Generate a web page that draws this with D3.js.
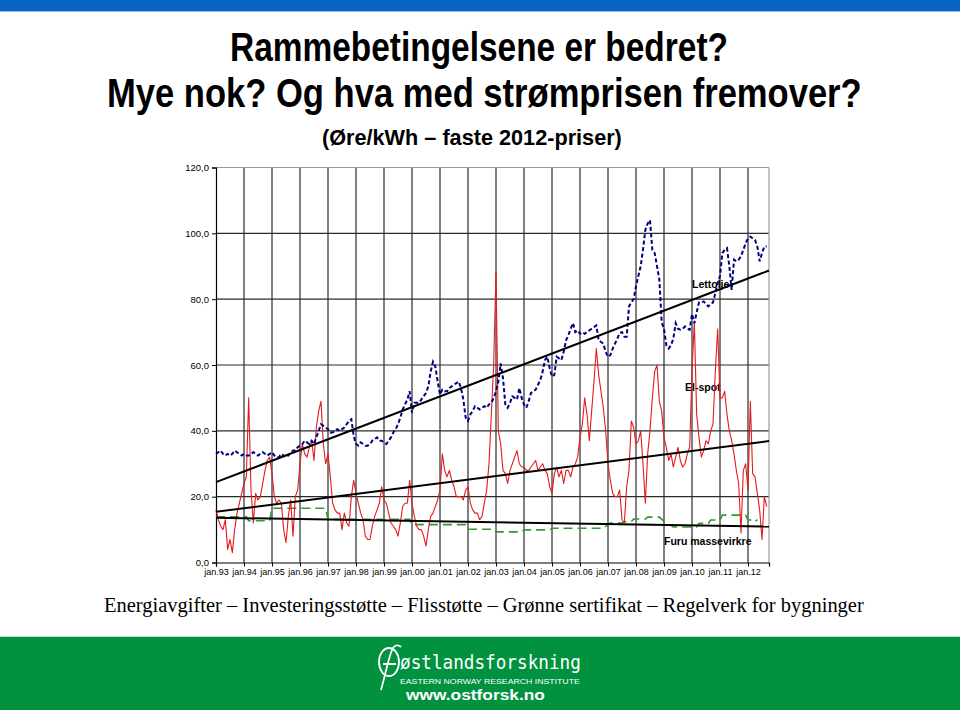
<!DOCTYPE html>
<html><head><meta charset="utf-8">
<script src="https://cdn.jsdelivr.net/npm/d3@7/dist/d3.min.js"></script>
<style>body{margin:0;background:#fff}svg{display:block}</style>
</head><body>
<svg id="c" width="960" height="710"></svg>
<script>
// ---------- data ----------
const yearLabels = ["jan.93","jan.94","jan.95","jan.96","jan.97","jan.98","jan.99","jan.00","jan.01","jan.02","jan.03","jan.04","jan.05","jan.06","jan.07","jan.08","jan.09","jan.10","jan.11","jan.12"];
const yTicks = [0,20,40,60,80,100,120];

// Lettolje (monthly, Jan 1993 ->)
const lettolje = [
33,33.5,34,33,32.5,33,32.5,33,34,33.5,33,32.5,
33,32.5,32.5,33,33.5,33,32.5,33,33.5,33,32.5,33,
33.5,32.5,32,32,33,32.5,32,32.5,33.5,34,34,35,
35.5,36,37,36.5,36,37,36,38,40,42,41.5,41,
40.5,39.5,39.5,40,40.5,40,40.5,41,42,43,43.5,38.5,
36,35.5,36.5,36,35.5,35.5,36,37,37.5,38,37,37,
36.5,36,37,38,39.5,40.5,42,44,46.5,48,49.5,52,
45.5,48.5,48.5,48.5,49.5,50.5,51.5,53.5,58,61,59.5,55,
51,52.5,52,52,53,53.5,54,54.5,55,53,49.5,44,
43,45,46,47.5,47,46.5,47,47.5,47,48,48.5,50,
52,55,60.5,56,48,47,48.5,50.5,50,49.5,53,50,
48,47,49,51.5,52,52.5,54,55.5,58,61.5,62.5,59,
56.5,57,62.5,62,61.5,64,67.5,69,71,72.7,70,70.5,
69.5,70,69.5,70,70.5,71,71.5,72,67.5,67,66.5,64,
62.5,63,65,66.5,68,69.7,70,68.6,68.6,77.8,79,80,
84,87,90,95,101,103,104,95,94,90,86,73,
71,66,65,66,68,72.7,71,70.7,71,71.7,71,70.7,
75.5,72.7,76,79,79,79.3,78.5,77.8,78.5,79,81.8,85,
87,94,95,95.5,90,82.8,92,91.5,92,93,95,97,
98.5,99,98.5,98,96,91.5,94,96,96
];

// El-spot (monthly, Jan 1993 ->)
const elspot = [
16,13,11,10,13,4,7,3,10,15,18,21,
24,26,50,22,12,21,19,20,24,28,31,32,
27,20,18,19,18,10,6,14,19,8,20,22,
30,36,33,32,35,37,31,41,46,49,36,30,
33,26,18,16,15,15,10,15,12,11,20,25,
21,18,15,13,8,7,7,11,14,16,18,23,
19,18,15,12,11,10,8,12,17,18,18,25,
18,14,11,10,10,8,5,10,14,15,17,19,
22,33,28,26,28,25,23,20,20,20,19,22,
23,18,16,15,15,13,14,18,22,30,45,60,
88,40,36,28,27,24,28,30,32,34,30,29,
29,28,28,29,30,31,28,29,30,28,27,23,
21,27,29,26,28,24,28,28,26,29,30,32,
38,42,50,45,37,46,55,65,57,52,47,40,
30,25,21,20,20,22,13,12,23,28,43,41,
36,37,40,30,18,33,40,50,58,60,49,46,
38,35,31,33,29,32,35,31,29,30,33,35,
58,73,45,38,32,34,37,36,40,42,58,71,
50,50,52,45,40,37,33,28,24,9,28,30,
22,49,27,26,21,16,7,20,17
];

// Furu massevirkre (monthly, Jan 1993 ->)
const furu = [
13.9,13.9,13.9,13.9,13.9,13.9,13.9,13.9,13.9,13.9,13.9,13.9,13.9,13.9,
12.7,12.7,12.7,12.7,12.7,12.7,12.7,12.7,12.7,12.7,
16.5,16.5,16.5,16.5,16.5,16.5,16.5,16.5,16.5,16.5,16.5,16.5,
16.5,16.5,16.5,16.5,16.5,16.5,16.5,16.5,16.5,16.5,16.5,16.5,
13.1,13.1,13.1,13.1,13.1,13.1,13.1,13.1,13.1,13.1,13.1,13.1,
13.1,13.1,13.1,13.1,13.1,13.1,13.1,13.1,13.1,13.1,13.1,13.1,
13.1,13.1,13.1,13.1,13.1,13.1,13.1,13.1,13.1,13.1,13.1,13.1,
11.5,11.5,11.5,11.5,11.5,11.5,11.5,11.5,11.5,11.5,11.5,11.5,
11.5,11.5,11.5,11.5,11.5,11.5,11.5,11.5,11.5,11.5,11.5,11.5,
10.1,10.1,10.1,10.1,10.1,10.1,10.1,10.1,10.1,10.1,10.1,10.1,
9.3,9.3,9.3,9.3,9.3,9.3,9.3,9.3,9.3,9.3,9.3,9.3,
9.9,9.9,9.9,9.9,9.9,9.9,9.9,9.9,9.9,9.9,9.9,9.9,
10.4,10.4,10.4,10.4,10.4,10.4,10.4,10.4,10.4,10.4,10.4,10.4,
10.4,10.4,10.4,10.4,10.4,10.4,10.4,10.4,10.4,10.4,10.4,
11,11.5,12,12,12,12,12,12,12.4,12.4,12.4,12.4,
13.2,13.2,13.2,13.2,13.2,13.2,13.8,13.8,13.8,13.8,13.8,13.8,
13.2,12.4,12,11.6,11.3,
10.8,10.8,10.8,10.8,10.8,10.8,10.8,10.8,10.8,10.8,10.8,
11.9,11.9,11.9,11.9,11.9,12.9,12.9,12.9,12.9,12.9,
14.4,14.4,14.4,14.4,14.4,14.4,14.4,14.4,14.4,14.4,14.4,
12.9,12.9,12.9,12.4,13
];

// linear trend lines: value at first and last month
const trendMonths = [0, 237];
const trendLettolje = [24.4, 88.7];
const trendElspot = [15.4, 36.9];
const trendFuru = [13.6, 10.9];

const seriesLabels = [
  {text:"Lettolje", month:204, value:83.5},
  {text:"El-spot", month:201, value:52},
  {text:"Furu massevirkre", month:192, value:5.3}
];

// ---------- drawing ----------
const svg = d3.select("#c");
const X0 = 216, X1 = 769, Y0 = 562.5, Y1 = 167.5;
const x = d3.scaleLinear().domain([0, 237]).range([X0, X1]);
const y = d3.scaleLinear().domain([0, 120]).range([Y0, Y1]);
const yearMonths = yearLabels.map((d,i) => i*12);

// slide header band
svg.append("rect").attr("x",0).attr("y",0).attr("width",960).attr("height",11).attr("fill","#0865c4");
svg.append("line").attr("x1",0).attr("x2",960).attr("y1",11.5).attr("y2",11.5).attr("stroke","#8fb8e6");

// text squeezed horizontally to a measured width (via transform)
function squeezed(parent, txt, x0, by, len, family, size, weight, fill){
  const t = parent.append("text").attr("x",0).attr("y",0)
    .attr("font-family", family).attr("font-size", size).attr("font-weight", weight||"normal")
    .attr("fill", fill||"#000").text(txt);
  const n = t.node().getComputedTextLength();
  t.attr("transform", `translate(${x0},${by}) scale(${len/n},1)`);
  return t;
}
const narrow = "'Liberation Sans Narrow','Arial Narrow','Liberation Sans',Arial,sans-serif";
squeezed(svg, "Rammebetingelsene er bedret?", 230, 61, 498, narrow, 41, "bold");
squeezed(svg, "Mye nok? Og hva med strømprisen fremover?", 107, 107, 755, narrow, 41, "bold");
squeezed(svg, "(Øre/kWh – faste 2012-priser)", 322, 145, 300, narrow, 22, "bold");

// grid
const g = svg.append("g");
g.selectAll("line.hg").data(yTicks.filter(v => v>0 && v<120)).join("line")
  .attr("x1", X0).attr("x2", X1).attr("y1", d=>y(d)).attr("y2", d=>y(d))
  .attr("stroke","#2b2b2b").attr("stroke-width",1.2);
g.selectAll("line.vg").data(yearMonths.slice(1)).join("line")
  .attr("x1", d=>x(d)).attr("x2", d=>x(d)).attr("y1", Y0).attr("y2", Y1)
  .attr("stroke","#2b2b2b").attr("stroke-width",1.2);
g.append("line").attr("x1",X0).attr("x2",X1).attr("y1",Y1).attr("y2",Y1).attr("stroke","#999").attr("stroke-width",1.2);
g.append("line").attr("x1",X1).attr("x2",X1).attr("y1",Y1).attr("y2",Y0).attr("stroke","#999").attr("stroke-width",1.2);

// axes
const yAxis = d3.axisLeft(y).tickValues(yTicks).tickSize(4).tickPadding(3)
  .tickFormat(d => d.toFixed(1).replace(".", ","));
const ya = svg.append("g").attr("transform",`translate(${X0},0)`).call(yAxis);
const xAxis = d3.axisBottom(x).tickValues(yearMonths).tickSize(4).tickPadding(2)
  .tickFormat((d,i) => yearLabels[i]);
const xa = svg.append("g").attr("transform",`translate(0,${Y0})`).call(xAxis);
[ya, xa].forEach(a => {
  a.select(".domain").attr("stroke","#000").attr("stroke-width",1.2);
  a.selectAll(".tick line").attr("stroke","#000");
  a.selectAll("text").attr("font-family","'Liberation Sans',Arial,sans-serif").attr("fill","#000");
});
ya.selectAll("text").attr("font-size",9.5);
xa.selectAll("text").attr("font-size",9);

// series labels (under lines)
svg.selectAll("text.sl").data(seriesLabels).join("text")
  .attr("x", d=>x(d.month)).attr("y", d=>y(d.value))
  .attr("font-family","'Liberation Sans',Arial,sans-serif").attr("font-weight","bold")
  .attr("font-size",10.5).attr("fill","#000").text(d=>d.text);

const line = d3.line().x((d,i)=>x(i)).y(d=>y(d));
svg.append("path").datum(furu).attr("d", line).attr("fill","none")
  .attr("stroke","#339933").attr("stroke-width",1.6).attr("stroke-dasharray","9,5");
svg.append("path").datum(elspot).attr("d", line).attr("fill","none")
  .attr("stroke","#e8191c").attr("stroke-width",1.1).attr("stroke-linejoin","round");
svg.append("path").datum(lettolje).attr("d", line).attr("fill","none")
  .attr("stroke","#000080").attr("stroke-width",2).attr("stroke-dasharray","4,2.5");

const tline = d3.line().x((d,i)=>x(trendMonths[i])).y(d=>y(d));
[trendLettolje, trendElspot, trendFuru].forEach(t => {
  svg.append("path").datum(t).attr("d", tline).attr("fill","none")
    .attr("stroke","#000").attr("stroke-width",2);
});

// bottom text
squeezed(svg, "Energiavgifter – Investeringsstøtte – Flisstøtte – Grønne sertifikat – Regelverk for bygninger",
  104, 612, 760, "'Liberation Serif','Times New Roman',serif", 20);

// footer
svg.append("line").attr("x1",0).attr("x2",960).attr("y1",636.5).attr("y2",636.5).attr("stroke","#cfcfcf");
svg.append("rect").attr("x",0).attr("y",637).attr("width",960).attr("height",73).attr("fill","#01923f");
const logo = svg.append("g");
logo.append("ellipse").attr("cx",389).attr("cy",662).attr("rx",10).attr("ry",14)
  .attr("fill","none").attr("stroke","#fff").attr("stroke-width",1.8);
logo.append("path").attr("d","M381,690 C386,672 388,660 392,650 C394,645 398,644 401,647 M383,664 L396,664")
  .attr("fill","none").attr("stroke","#fff").attr("stroke-width",1.8);
squeezed(logo, "østlandsforskning", 400, 669, 181, "'DejaVu Sans Mono',monospace", 20, "normal", "#fff");
squeezed(logo, "EASTERN NORWAY RESEARCH INSTITUTE", 400, 684, 180, "'Liberation Sans Narrow','Liberation Sans',Arial,sans-serif", 8, "normal", "#fff");
squeezed(logo, "www.ostforsk.no", 406, 700, 139, "'Liberation Sans',Arial,sans-serif", 14, "bold", "#fff");
</script>
</body></html>
